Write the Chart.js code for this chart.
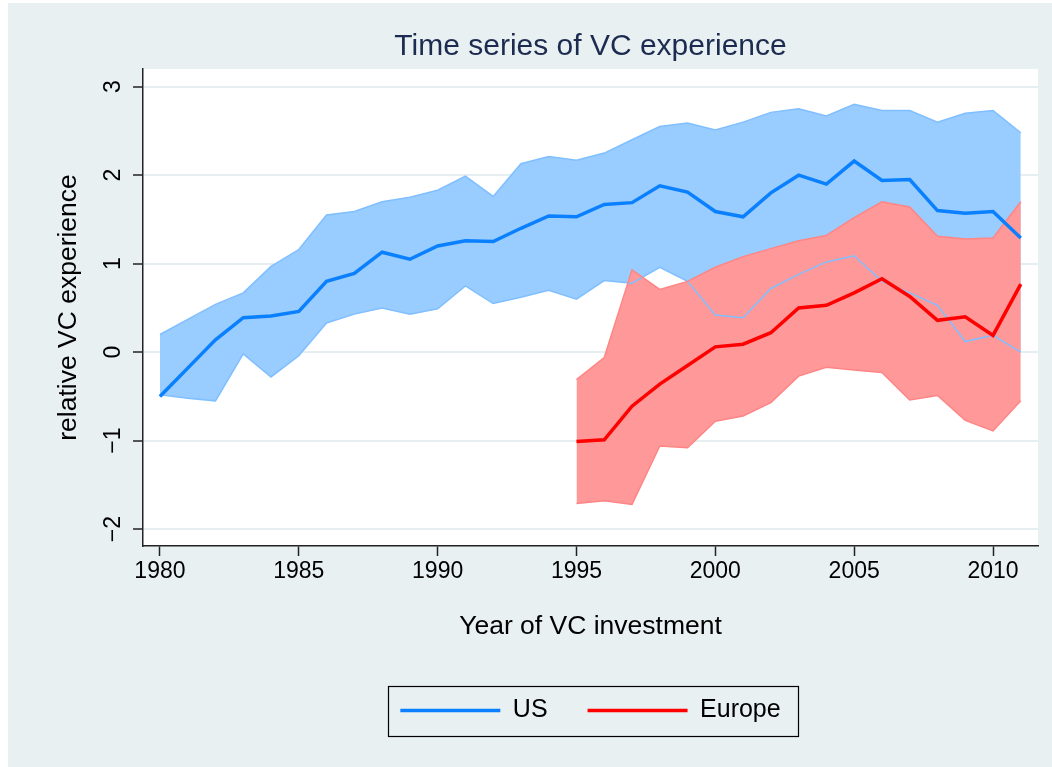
<!DOCTYPE html>
<html lang="en">
<head>
<meta charset="UTF-8">
<title>Time series of VC experience</title>
<script src="https://cdn.jsdelivr.net/npm/chart.js"></script>
<style>
  body { margin: 0; background: #ffffff; }
  #chart { position: absolute; left: 8px; top: 3px; background: #e8f0f2; }
</style>
</head>
<body>
<canvas id="chart" width="1044" height="764"></canvas>
<script>
// years on the x axis
var years = [1980, 1981, 1982, 1983, 1984, 1985, 1986, 1987, 1988, 1989, 1990,
             1991, 1992, 1993, 1994, 1995, 1996, 1997, 1998, 1999, 2000,
             2001, 2002, 2003, 2004, 2005, 2006, 2007, 2008, 2009, 2010, 2011];
var euYears = [1995, 1996, 1997, 1998, 1999, 2000, 2001, 2002, 2003,
               2004, 2005, 2006, 2007, 2008, 2009, 2010, 2011];

// US: mean and confidence band
var usMean = [-0.50, -0.18, 0.14, 0.39, 0.41, 0.46, 0.80, 0.89, 1.13, 1.05, 1.20,
              1.26, 1.25, 1.40, 1.54, 1.53, 1.67, 1.69, 1.88, 1.81, 1.59,
              1.53, 1.80, 2.00, 1.90, 2.16, 1.94, 1.95, 1.60, 1.57, 1.59, 1.29];
var usHi = [0.20, 0.37, 0.54, 0.67, 0.97, 1.16, 1.55, 1.59, 1.70, 1.75, 1.83,
            1.99, 1.76, 2.13, 2.21, 2.17, 2.25, 2.40, 2.55, 2.59, 2.51,
            2.60, 2.71, 2.75, 2.67, 2.80, 2.73, 2.73, 2.60, 2.70, 2.73, 2.48];
var usLo = [-0.48, -0.52, -0.55, -0.02, -0.28, -0.04, 0.33, 0.43, 0.50, 0.43, 0.49,
            0.75, 0.55, 0.62, 0.70, 0.60, 0.81, 0.78, 0.96, 0.80, 0.42,
            0.39, 0.72, 0.88, 1.02, 1.09, 0.80, 0.67, 0.53, 0.12, 0.19, 0.00];

// Europe: mean and confidence band (from 1995)
var euMean = [-1.01, -0.99, -0.61, -0.36, -0.15, 0.06, 0.09, 0.22, 0.50,
              0.53, 0.67, 0.83, 0.63, 0.36, 0.40, 0.19, 0.77];
var euHi = [-0.31, -0.06, 0.93, 0.71, 0.80, 0.96, 1.08, 1.17, 1.26,
            1.32, 1.52, 1.70, 1.64, 1.31, 1.28, 1.29, 1.70];
var euLo = [-1.71, -1.68, -1.72, -1.06, -1.08, -0.78, -0.72, -0.57, -0.27,
            -0.17, -0.20, -0.23, -0.54, -0.49, -0.77, -0.89, -0.55];

var xTicks = [1980, 1985, 1990, 1995, 2000, 2005, 2010];
var yTicks = [-2, -1, 0, 1, 2, 3];

function pts(xs, ys) {
    return xs.map(function (x, i) { return { x: x, y: ys[i] }; });
}

Chart.defaults.font.family = "'Liberation Sans', Arial, Helvetica, sans-serif";
Chart.defaults.color = '#000';

// white plot region
var plotBg = {
    id: 'plotBg',
    beforeDraw: function (chart) {
        var a = chart.chartArea, ctx = chart.ctx;
        ctx.save();
        ctx.fillStyle = '#ffffff';
        ctx.fillRect(a.left, a.top, a.right - a.left, a.bottom - a.top);
        ctx.restore();
    }
};

// frame round the legend
var legendFrame = {
    id: 'legendFrame',
    afterDraw: function (chart) {
        var hb = chart.legend.legendHitBoxes;
        if (!hb || !hb.length) return;
        var fs = chart.legend.options.labels.font.size;
        var first = hb[0], last = hb[hb.length - 1];
        var yc = first.top + fs / 2;
        var x0 = first.left - 12, x1 = last.left + last.width + 18;
        var ctx = chart.ctx;
        ctx.save();
        ctx.strokeStyle = '#000';
        ctx.lineWidth = 1.2;
        ctx.strokeRect(Math.round(x0) + 0.5, Math.round(yc - 25) + 0.5, Math.round(x1 - x0), 50);
        ctx.restore();
    }
};

var ctx = document.getElementById('chart').getContext('2d');
new Chart(ctx, {
    type: 'line',
    data: {
        datasets: [
            { label: 'US', data: pts(years, usMean), borderColor: '#0a80ff', borderWidth: 3.5, order: 0 },
            { label: 'Europe', data: pts(euYears, euMean), borderColor: '#ff0000', borderWidth: 3.5, order: 1 },
            { label: '', data: pts(years, usHi), borderColor: '#80bfff', borderWidth: 1.5,
              backgroundColor: '#99ccff', fill: '+1', order: 5 },
            { label: '', data: pts(years, usLo), borderColor: '#80bfff', borderWidth: 1.5, order: 5 },
            { label: '', data: pts(euYears, euHi), borderColor: '#ff8585', borderWidth: 1.5,
              backgroundColor: '#ff9999', fill: '+1', order: 3 },
            { label: '', data: pts(euYears, euLo), borderColor: '#ff8585', borderWidth: 1.5, order: 3 }
        ]
    },
    options: {
        responsive: false,
        animation: false,
        layout: { padding: { left: 0, right: 14, top: 0, bottom: 34 } },
        elements: { point: { radius: 0, hoverRadius: 0 }, line: { tension: 0 } },
        scales: {
            x: {
                type: 'linear',
                min: 1979.39,
                max: 2011.62,
                afterBuildTicks: function (s) { s.ticks = xTicks.map(function (v) { return { value: v }; }); },
                afterFit: function (s) { s.height = 112; },
                grid: { drawOnChartArea: false, drawTicks: true, tickLength: 10, tickColor: '#222', tickWidth: 1.5 },
                border: { color: '#222', width: 1.5 },
                ticks: { font: { size: 23 }, color: '#000', padding: 2, maxRotation: 0,
                         callback: function (v) { return String(v); } },
                title: { display: true, text: 'Year of VC investment', font: { size: 26.5 }, color: '#000',
                         padding: { top: 0, bottom: 15 } }
            },
            y: {
                min: -2.19,
                max: 3.2,
                afterBuildTicks: function (s) { s.ticks = yTicks.map(function (v) { return { value: v }; }); },
                afterFit: function (s) { s.width = 135; },
                grid: { color: '#e6eef1', lineWidth: 2, drawTicks: true, tickLength: 10, tickColor: '#222', tickWidth: 1.5 },
                border: { color: '#222', width: 1.5 },
                ticks: { font: { size: 23 }, color: '#000', padding: 6, minRotation: 90, maxRotation: 90,
                         crossAlign: 'center',
                         callback: function (v) { return String(v).replace('-', '\u2212'); } },
                title: { display: true, text: 'relative VC experience', font: { size: 26.5 }, color: '#000',
                         padding: { top: 45, bottom: 0 } }
            }
        },
        plugins: {
            filler: { drawTime: 'beforeDatasetsDraw' },
            title: {
                display: true,
                fullSize: false,
                text: 'Time series of VC experience',
                color: '#1c2b4f',
                font: { size: 30, weight: 'normal' },
                padding: { top: 26, bottom: 4 }
            },
            legend: {
                position: 'bottom',
                fullSize: false,
                align: 'center',
                labels: {
                    filter: function (item) { return item.text !== ''; },
                    usePointStyle: true,
                    pointStyle: 'line',
                    pointStyleWidth: 100,
                    font: { size: 25 },
                    color: '#000',
                    padding: 40
                }
            },
            tooltip: { enabled: false }
        }
    },
    plugins: [plotBg, legendFrame]
});
</script>
</body>
</html>
